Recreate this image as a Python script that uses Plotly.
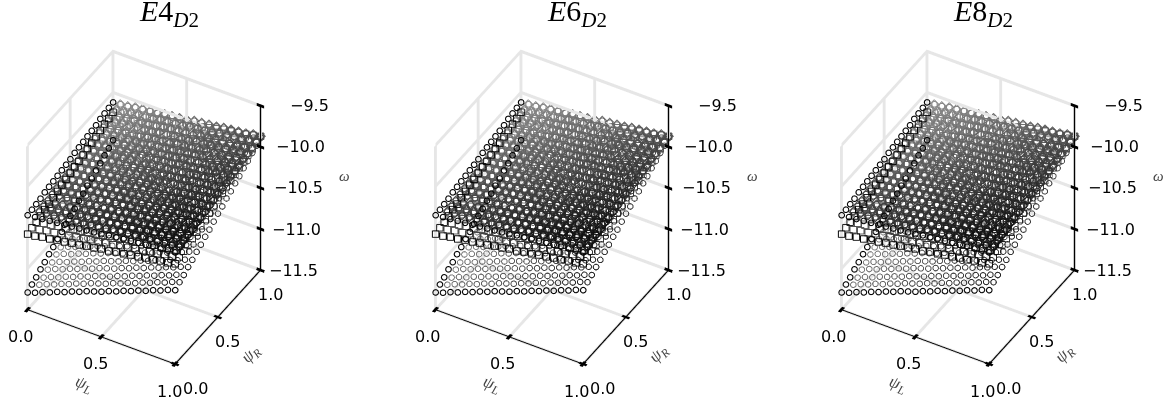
import plotly.graph_objects as go

psi_L = [0.0,0.05,0.1,0.15,0.2,0.25,0.3,0.35,0.4,0.45,0.5,0.55,0.6,0.65,0.7,0.75,0.8,0.85,0.9,0.95,1.0]
psi_R = [0.0,0.05,0.1,0.15,0.2,0.25,0.3,0.35,0.4,0.45,0.5,0.55,0.6,0.65,0.7,0.75,0.8,0.85,0.9,0.95,1.0]
# rows: psi_R, columns: psi_L (all three panels look alike)
omega_low = [
[-11.29,-11.26,-11.22,-11.19,-11.15,-11.12,-11.08,-11.05,-11.01,-10.98,-10.95,-10.91,-10.88,-10.84,-10.81,-10.77,-10.74,-10.70,-10.67,-10.63,-10.60],
[-11.25,-11.22,-11.18,-11.15,-11.11,-11.08,-11.04,-11.01,-10.97,-10.94,-10.91,-10.87,-10.84,-10.80,-10.77,-10.73,-10.70,-10.66,-10.63,-10.59,-10.56],
[-11.22,-11.19,-11.15,-11.12,-11.08,-11.05,-11.01,-10.98,-10.94,-10.91,-10.88,-10.84,-10.81,-10.77,-10.74,-10.70,-10.67,-10.63,-10.60,-10.56,-10.53],
[-11.18,-11.15,-11.11,-11.08,-11.04,-11.01,-10.97,-10.94,-10.90,-10.87,-10.84,-10.80,-10.77,-10.73,-10.70,-10.66,-10.63,-10.59,-10.56,-10.52,-10.49],
[-11.15,-11.12,-11.08,-11.05,-11.01,-10.98,-10.94,-10.91,-10.87,-10.84,-10.81,-10.77,-10.74,-10.70,-10.67,-10.63,-10.60,-10.56,-10.53,-10.49,-10.46],
[-11.11,-11.08,-11.04,-11.01,-10.97,-10.94,-10.90,-10.87,-10.83,-10.80,-10.77,-10.73,-10.70,-10.66,-10.63,-10.59,-10.56,-10.52,-10.49,-10.45,-10.42],
[-11.08,-11.05,-11.01,-10.98,-10.94,-10.91,-10.87,-10.84,-10.80,-10.77,-10.74,-10.70,-10.67,-10.63,-10.60,-10.56,-10.53,-10.49,-10.46,-10.42,-10.39],
[-11.04,-11.01,-10.97,-10.94,-10.90,-10.87,-10.83,-10.80,-10.76,-10.73,-10.70,-10.66,-10.63,-10.59,-10.56,-10.52,-10.49,-10.45,-10.42,-10.38,-10.35],
[-11.01,-10.98,-10.94,-10.91,-10.87,-10.84,-10.80,-10.77,-10.73,-10.70,-10.67,-10.63,-10.60,-10.56,-10.53,-10.49,-10.46,-10.42,-10.39,-10.35,-10.32],
[-10.97,-10.94,-10.90,-10.87,-10.83,-10.80,-10.76,-10.73,-10.69,-10.66,-10.63,-10.59,-10.56,-10.52,-10.49,-10.45,-10.42,-10.38,-10.35,-10.31,-10.28],
[-10.93,-10.90,-10.86,-10.83,-10.79,-10.76,-10.72,-10.69,-10.65,-10.62,-10.59,-10.55,-10.52,-10.48,-10.45,-10.41,-10.38,-10.34,-10.31,-10.27,-10.24],
[-10.90,-10.87,-10.83,-10.80,-10.76,-10.73,-10.69,-10.66,-10.62,-10.59,-10.56,-10.52,-10.49,-10.45,-10.42,-10.38,-10.35,-10.31,-10.28,-10.24,-10.21],
[-10.86,-10.83,-10.79,-10.76,-10.72,-10.69,-10.65,-10.62,-10.58,-10.55,-10.52,-10.48,-10.45,-10.41,-10.38,-10.34,-10.31,-10.27,-10.24,-10.20,-10.17],
[-10.83,-10.80,-10.76,-10.73,-10.69,-10.66,-10.62,-10.59,-10.55,-10.52,-10.49,-10.45,-10.42,-10.38,-10.35,-10.31,-10.28,-10.24,-10.21,-10.17,-10.14],
[-10.79,-10.76,-10.72,-10.69,-10.65,-10.62,-10.58,-10.55,-10.51,-10.48,-10.45,-10.41,-10.38,-10.34,-10.31,-10.27,-10.24,-10.20,-10.17,-10.13,-10.10],
[-10.76,-10.73,-10.69,-10.66,-10.62,-10.59,-10.55,-10.52,-10.48,-10.45,-10.42,-10.38,-10.35,-10.31,-10.28,-10.24,-10.21,-10.17,-10.14,-10.10,-10.07],
[-10.72,-10.69,-10.65,-10.62,-10.58,-10.55,-10.51,-10.48,-10.44,-10.41,-10.38,-10.34,-10.31,-10.27,-10.24,-10.20,-10.17,-10.13,-10.10,-10.06,-10.03],
[-10.69,-10.66,-10.62,-10.59,-10.55,-10.52,-10.48,-10.45,-10.41,-10.38,-10.35,-10.31,-10.28,-10.24,-10.21,-10.17,-10.14,-10.10,-10.07,-10.03,-10.00],
[-10.65,-10.62,-10.58,-10.55,-10.51,-10.48,-10.44,-10.41,-10.37,-10.34,-10.31,-10.27,-10.24,-10.20,-10.17,-10.13,-10.10,-10.06,-10.03,-9.99,-9.96],
[-10.62,-10.59,-10.55,-10.52,-10.48,-10.45,-10.41,-10.38,-10.34,-10.31,-10.28,-10.24,-10.21,-10.17,-10.14,-10.10,-10.07,-10.03,-10.00,-9.96,-9.93],
[-10.58,-10.55,-10.51,-10.48,-10.44,-10.41,-10.37,-10.34,-10.30,-10.27,-10.24,-10.20,-10.17,-10.13,-10.10,-10.06,-10.03,-9.99,-9.96,-9.92,-9.89],
]
omega_mid = [
[-10.58,-10.57,-10.55,-10.54,-10.52,-10.51,-10.49,-10.48,-10.46,-10.45,-10.43,-10.42,-10.40,-10.39,-10.37,-10.36,-10.34,-10.33,-10.31,-10.30,-10.28],
[-10.56,-10.55,-10.53,-10.52,-10.50,-10.49,-10.47,-10.46,-10.44,-10.43,-10.41,-10.40,-10.38,-10.37,-10.35,-10.34,-10.32,-10.31,-10.29,-10.28,-10.26],
[-10.55,-10.53,-10.52,-10.50,-10.49,-10.47,-10.46,-10.44,-10.43,-10.41,-10.39,-10.38,-10.36,-10.35,-10.33,-10.32,-10.30,-10.29,-10.27,-10.26,-10.24],
[-10.53,-10.51,-10.50,-10.48,-10.47,-10.45,-10.44,-10.42,-10.41,-10.39,-10.37,-10.36,-10.34,-10.33,-10.31,-10.30,-10.28,-10.27,-10.25,-10.24,-10.22],
[-10.51,-10.49,-10.48,-10.46,-10.45,-10.43,-10.42,-10.40,-10.39,-10.37,-10.35,-10.34,-10.32,-10.31,-10.29,-10.28,-10.26,-10.25,-10.23,-10.22,-10.20],
[-10.50,-10.48,-10.47,-10.45,-10.44,-10.42,-10.40,-10.39,-10.37,-10.36,-10.34,-10.32,-10.31,-10.29,-10.28,-10.26,-10.24,-10.23,-10.21,-10.20,-10.18],
[-10.48,-10.46,-10.45,-10.43,-10.42,-10.40,-10.38,-10.37,-10.35,-10.34,-10.32,-10.30,-10.29,-10.27,-10.26,-10.24,-10.22,-10.21,-10.19,-10.18,-10.16],
[-10.46,-10.44,-10.43,-10.41,-10.40,-10.38,-10.36,-10.35,-10.33,-10.32,-10.30,-10.28,-10.27,-10.25,-10.24,-10.22,-10.20,-10.19,-10.17,-10.16,-10.14],
[-10.44,-10.42,-10.41,-10.39,-10.38,-10.36,-10.34,-10.33,-10.31,-10.30,-10.28,-10.26,-10.25,-10.23,-10.22,-10.20,-10.18,-10.17,-10.15,-10.14,-10.12],
[-10.43,-10.41,-10.40,-10.38,-10.36,-10.35,-10.33,-10.31,-10.30,-10.28,-10.27,-10.25,-10.23,-10.22,-10.20,-10.18,-10.17,-10.15,-10.13,-10.12,-10.10],
[-10.41,-10.39,-10.38,-10.36,-10.34,-10.33,-10.31,-10.29,-10.28,-10.26,-10.25,-10.23,-10.21,-10.20,-10.18,-10.16,-10.15,-10.13,-10.11,-10.10,-10.08],
[-10.39,-10.37,-10.36,-10.34,-10.32,-10.31,-10.29,-10.27,-10.25,-10.24,-10.22,-10.20,-10.19,-10.17,-10.15,-10.14,-10.12,-10.10,-10.08,-10.07,-10.05],
[-10.38,-10.36,-10.34,-10.33,-10.31,-10.29,-10.27,-10.26,-10.24,-10.22,-10.20,-10.19,-10.17,-10.15,-10.13,-10.12,-10.10,-10.08,-10.06,-10.05,-10.03],
[-10.36,-10.34,-10.32,-10.31,-10.29,-10.27,-10.25,-10.24,-10.22,-10.20,-10.18,-10.17,-10.15,-10.13,-10.11,-10.10,-10.08,-10.06,-10.04,-10.03,-10.01],
[-10.34,-10.32,-10.30,-10.29,-10.27,-10.25,-10.23,-10.22,-10.20,-10.18,-10.16,-10.15,-10.13,-10.11,-10.09,-10.08,-10.06,-10.04,-10.02,-10.01,-9.99],
[-10.33,-10.31,-10.29,-10.27,-10.26,-10.24,-10.22,-10.20,-10.19,-10.17,-10.15,-10.13,-10.11,-10.10,-10.08,-10.06,-10.04,-10.03,-10.01,-9.99,-9.97],
[-10.31,-10.29,-10.27,-10.25,-10.24,-10.22,-10.20,-10.18,-10.17,-10.15,-10.13,-10.11,-10.09,-10.08,-10.06,-10.04,-10.02,-10.01,-9.99,-9.97,-9.95],
[-10.29,-10.27,-10.25,-10.23,-10.22,-10.20,-10.18,-10.16,-10.15,-10.13,-10.11,-10.09,-10.07,-10.06,-10.04,-10.02,-10.00,-9.99,-9.97,-9.95,-9.93],
[-10.27,-10.25,-10.23,-10.21,-10.20,-10.18,-10.16,-10.14,-10.13,-10.11,-10.09,-10.07,-10.05,-10.04,-10.02,-10.00,-9.98,-9.97,-9.95,-9.93,-9.91],
[-10.26,-10.24,-10.22,-10.20,-10.19,-10.17,-10.15,-10.13,-10.11,-10.09,-10.08,-10.06,-10.04,-10.02,-10.00,-9.98,-9.96,-9.95,-9.93,-9.91,-9.89],
[-10.24,-10.22,-10.20,-10.18,-10.17,-10.15,-10.13,-10.11,-10.09,-10.07,-10.05,-10.04,-10.02,-10.00,-9.98,-9.96,-9.94,-9.93,-9.91,-9.89,-9.87],
]
omega_top = [
[-10.35,-10.34,-10.33,-10.32,-10.31,-10.30,-10.29,-10.28,-10.27,-10.26,-10.25,-10.23,-10.22,-10.21,-10.20,-10.19,-10.18,-10.17,-10.16,-10.15,-10.14],
[-10.34,-10.33,-10.32,-10.31,-10.30,-10.29,-10.28,-10.27,-10.26,-10.25,-10.24,-10.22,-10.21,-10.20,-10.19,-10.18,-10.17,-10.16,-10.15,-10.14,-10.13],
[-10.33,-10.32,-10.31,-10.30,-10.29,-10.27,-10.26,-10.25,-10.24,-10.23,-10.22,-10.21,-10.20,-10.19,-10.18,-10.16,-10.15,-10.14,-10.13,-10.12,-10.11],
[-10.32,-10.31,-10.30,-10.29,-10.28,-10.26,-10.25,-10.24,-10.23,-10.22,-10.21,-10.20,-10.19,-10.18,-10.17,-10.15,-10.14,-10.13,-10.12,-10.11,-10.10],
[-10.30,-10.29,-10.28,-10.27,-10.26,-10.25,-10.24,-10.23,-10.22,-10.21,-10.20,-10.18,-10.17,-10.16,-10.15,-10.14,-10.13,-10.12,-10.11,-10.10,-10.09],
[-10.29,-10.28,-10.27,-10.26,-10.25,-10.23,-10.22,-10.21,-10.20,-10.19,-10.18,-10.17,-10.16,-10.15,-10.14,-10.12,-10.11,-10.10,-10.09,-10.08,-10.07],
[-10.28,-10.27,-10.26,-10.25,-10.24,-10.22,-10.21,-10.20,-10.19,-10.18,-10.17,-10.16,-10.15,-10.14,-10.13,-10.11,-10.10,-10.09,-10.08,-10.07,-10.06],
[-10.27,-10.26,-10.25,-10.24,-10.23,-10.21,-10.20,-10.19,-10.18,-10.17,-10.16,-10.15,-10.14,-10.13,-10.12,-10.10,-10.09,-10.08,-10.07,-10.06,-10.05],
[-10.26,-10.25,-10.24,-10.23,-10.21,-10.20,-10.19,-10.18,-10.17,-10.16,-10.14,-10.13,-10.12,-10.11,-10.10,-10.09,-10.07,-10.06,-10.05,-10.04,-10.03],
[-10.25,-10.24,-10.23,-10.22,-10.20,-10.19,-10.18,-10.17,-10.16,-10.15,-10.13,-10.12,-10.11,-10.10,-10.09,-10.08,-10.06,-10.05,-10.04,-10.03,-10.02],
[-10.24,-10.23,-10.22,-10.20,-10.19,-10.18,-10.17,-10.16,-10.14,-10.13,-10.12,-10.11,-10.10,-10.08,-10.07,-10.06,-10.05,-10.04,-10.02,-10.01,-10.00],
[-10.22,-10.21,-10.20,-10.19,-10.17,-10.16,-10.15,-10.14,-10.13,-10.12,-10.10,-10.09,-10.08,-10.07,-10.06,-10.05,-10.03,-10.02,-10.01,-10.00,-9.99],
[-10.21,-10.20,-10.19,-10.18,-10.16,-10.15,-10.14,-10.13,-10.12,-10.11,-10.09,-10.08,-10.07,-10.06,-10.05,-10.04,-10.02,-10.01,-10.00,-9.99,-9.98],
[-10.20,-10.19,-10.18,-10.16,-10.15,-10.14,-10.13,-10.12,-10.10,-10.09,-10.08,-10.07,-10.06,-10.04,-10.03,-10.02,-10.01,-10.00,-9.98,-9.97,-9.96],
[-10.19,-10.18,-10.17,-10.15,-10.14,-10.13,-10.12,-10.11,-10.09,-10.08,-10.07,-10.06,-10.05,-10.03,-10.02,-10.01,-10.00,-9.99,-9.97,-9.96,-9.95],
[-10.18,-10.17,-10.16,-10.14,-10.13,-10.12,-10.11,-10.10,-10.08,-10.07,-10.06,-10.05,-10.04,-10.02,-10.01,-10.00,-9.99,-9.98,-9.96,-9.95,-9.94],
[-10.17,-10.16,-10.15,-10.13,-10.12,-10.11,-10.10,-10.08,-10.07,-10.06,-10.05,-10.03,-10.02,-10.01,-10.00,-9.98,-9.97,-9.96,-9.95,-9.93,-9.92],
[-10.15,-10.14,-10.13,-10.11,-10.10,-10.09,-10.08,-10.07,-10.05,-10.04,-10.03,-10.02,-10.01,-9.99,-9.98,-9.97,-9.96,-9.95,-9.93,-9.92,-9.91],
[-10.14,-10.13,-10.12,-10.10,-10.09,-10.08,-10.07,-10.06,-10.04,-10.03,-10.02,-10.01,-10.00,-9.98,-9.97,-9.96,-9.95,-9.94,-9.92,-9.91,-9.90],
[-10.13,-10.12,-10.11,-10.09,-10.08,-10.07,-10.06,-10.04,-10.03,-10.02,-10.01,-9.99,-9.98,-9.97,-9.96,-9.94,-9.93,-9.92,-9.91,-9.89,-9.88],
[-10.12,-10.11,-10.10,-10.08,-10.07,-10.06,-10.05,-10.03,-10.02,-10.01,-10.00,-9.98,-9.97,-9.96,-9.95,-9.93,-9.92,-9.91,-9.90,-9.88,-9.87],
]
panel_titles = ["<i>E</i>4<sub><i>D</i>2</sub>", "<i>E</i>6<sub><i>D</i>2</sub>", "<i>E</i>8<sub><i>D</i>2</sub>"]
tick_psi = [0.0, 0.5, 1.0]
tick_omega = [-9.5, -10.0, -10.5, -11.0, -11.5]
tick_omega_text = ["\u22129.5", "\u221210.0", "\u221210.5", "\u221211.0", "\u221211.5"]

centers = [144, 551.5, 957.5]
W, H = 1165, 406
EYE = dict(x=1.135, y=-1.96, z=1.90)
CENTER = dict(x=0, y=0, z=0.03)
SCALE = 0.84
fig = go.Figure()
TXT = dict(family="DejaVu Sans", size=16, color="black")
LAB = dict(family="Liberation Serif", size=17, color="#444444")
z0, z1 = tick_omega[-1], tick_omega[0]
PAD = 0.03
SIZES = {"circle-open": 3.5, "square-open": 2.9, "diamond-open": 3.3}

def depth_col(x, y, z):
    d = (x-0.5)*EYE["x"] + (y-0.5)*EYE["y"] + (z+10.5)*0.6*EYE["z"]
    t = max(0, min(1, (d+1.6)/3.2))
    g = int(15 + 150*(1-t))
    return f"rgb({g},{g},{g})"

class Quads:
    def __init__(self):
        self.x, self.y, self.z, self.i, self.j, self.k = [], [], [], [], [], []
    def add(self, a, b, w):
        n = len(self.x)
        pts = [(a[0]-w[0], a[1]-w[1], a[2]-w[2]), (a[0]+w[0], a[1]+w[1], a[2]+w[2]),
               (b[0]+w[0], b[1]+w[1], b[2]+w[2]), (b[0]-w[0], b[1]-w[1], b[2]-w[2])]
        for p in pts:
            self.x.append(p[0]); self.y.append(p[1]); self.z.append(p[2])
        self.i += [n, n]; self.j += [n+1, n+2]; self.k += [n+2, n+3]
    def trace(self, sid, color):
        return go.Mesh3d(x=self.x, y=self.y, z=self.z, i=self.i, j=self.j, k=self.k, color=color, scene=sid,
                         hoverinfo="skip", flatshading=True, showscale=False,
                         lighting=dict(ambient=1, diffuse=0, specular=0, fresnel=0))

def axis_dict(rng, vals, visible=True):
    return dict(showbackground=False, showgrid=False, zeroline=False, visible=visible,
                showline=False, showticklabels=False, ticks="", title=dict(text=""), showspikes=False,
                range=rng, tickvals=vals)

def scene_dict(c, ann):
    return dict(domain=dict(x=[(c-144)/W, (c+144)/W], y=[0, 1]),
                xaxis=axis_dict([-PAD, 1+PAD], tick_psi),
                yaxis=axis_dict([-PAD, 1+PAD], tick_psi),
                zaxis=axis_dict([z0-2*PAD, z1+2*PAD], tick_omega),
                aspectmode="manual", aspectratio=dict(x=SCALE*(1+2*PAD), y=SCALE*(1+2*PAD), z=SCALE*1.25*(1+2*PAD)),
                camera=dict(eye=EYE, center=CENTER, projection=dict(type="orthographic")),
                annotations=ann)

for k, c in enumerate(centers):
    sid = "scene" if k == 0 else f"scene{k+1}"
    over = f"scene{k+4}"
    g = Quads()
    for t in tick_psi:
        g.add((t, 0, z0), (t, 1, z0), (0.010, 0, 0))
        g.add((0, t, z0), (1, t, z0), (0, 0.012, 0))
        g.add((t, 1, z0), (t, 1, z1), (0.010, 0, 0))
        g.add((0, t, z0), (0, t, z1), (0, 0.017, 0))
    for t in tick_omega:
        g.add((0, 1, t), (1, 1, t), (0, 0, 0.020))
        g.add((0, 0, t), (0, 1, t), (0, 0, 0.025))
    fig.add_trace(g.trace(sid, "#e6e6e6"))
    for table, sym in ((omega_low, "circle-open"), (omega_mid, "square-open"), (omega_top, "diamond-open"), (omega_top, "circle-open")):
        xs, ys, zs, cs = [], [], [], []
        ex, ey, ez = [], [], []
        for j, r in enumerate(psi_R):
            for i, l in enumerate(psi_L):
                if i == 0 or j == 0:
                    ex.append(l); ey.append(r); ez.append(table[j][i])
                else:
                    xs.append(l); ys.append(r); zs.append(table[j][i]); cs.append(depth_col(l, r, table[j][i]))
        fig.add_trace(go.Scatter3d(x=xs, y=ys, z=zs, mode="markers", scene=sid, hoverinfo="skip", opacity=0.85,
                                   marker=dict(symbol=sym, size=SIZES[sym], color=cs, line=dict(width=1.2, color=cs))))
        if sym != "diamond-open":
            fig.add_trace(go.Scatter3d(x=ex, y=ey, z=ez, mode="markers", scene=over, hoverinfo="skip",
                                       marker=dict(symbol=sym, size=SIZES[sym], color="rgb(5,5,5)",
                                                   line=dict(width=2.0, color="rgb(5,5,5)"))))
    tk = Quads()
    for t in tick_psi:
        tk.add((t, -0.025, z0), (t, 0.025, z0), (0.010, 0, 0))
        tk.add((0.975, t, z0), (1.025, t, z0), (0, 0.010, 0))
    for t in tick_omega:
        tk.add((0.975, 1, t), (1.025, 1, t), (0, 0, 0.018))
    tk.add((0, 0, z0), (1, 0, z0), (0, 0.004, 0))
    tk.add((1, 0, z0), (1, 1, z0), (0.004, 0, 0))
    tk.add((1, 1, z0), (1, 1, z1), (0.004, 0, 0))
    fig.add_trace(tk.trace(over, "black"))
    ann = []
    def add(x, y, z, text, sx, sy, font=TXT, angle=0):
        ann.append(dict(x=x, y=y, z=z, text=text, showarrow=False, xshift=sx, yshift=-sy, font=font, textangle=angle))
    for t, s in zip(tick_psi, (-7, -6, -6)):
        add(t, 0, z0, f"{t:.1f}", s, 27)
    for t, s in zip(tick_psi, (20, 10, 10)):
        add(1, t, z0, f"{t:.1f}", s, 24)
    for t, s, sx in zip(tick_omega, tick_omega_text, (49, 40, 38, 36, 33)):
        add(1, 1, t, s, sx, 0)
    add(0.5, 0, z0, "<i>\u03c8<sub>L", -17, 48, LAB, 20)
    add(1, 0.5, z0, "<i>\u03c8<sub>R", 34, 37, LAB, -45)
    add(1, 1, -10.5, "<i>\u03c9</i>", 84, -12, dict(LAB, size=15), 0)
    fig.update_layout({sid: scene_dict(c, ann), over: scene_dict(c, [])})
    for ax in ("xaxis", "yaxis", "zaxis"):
        fig.layout[over][ax].visible = False
    fig.add_annotation(x=(c+25)/W, y=1-13/H, xref="paper", yref="paper", text=panel_titles[k], showarrow=False,
                       xanchor="center", yanchor="middle", font=dict(family="Liberation Serif", size=30, color="black"))

fig.update_layout(width=W, height=H, margin=dict(l=0, r=0, t=0, b=0), showlegend=False,
                  paper_bgcolor="white", hovermode=False)
fig.write_html("out.html", post_script="document.body.style.margin='0';", config={"displayModeBar": False})
